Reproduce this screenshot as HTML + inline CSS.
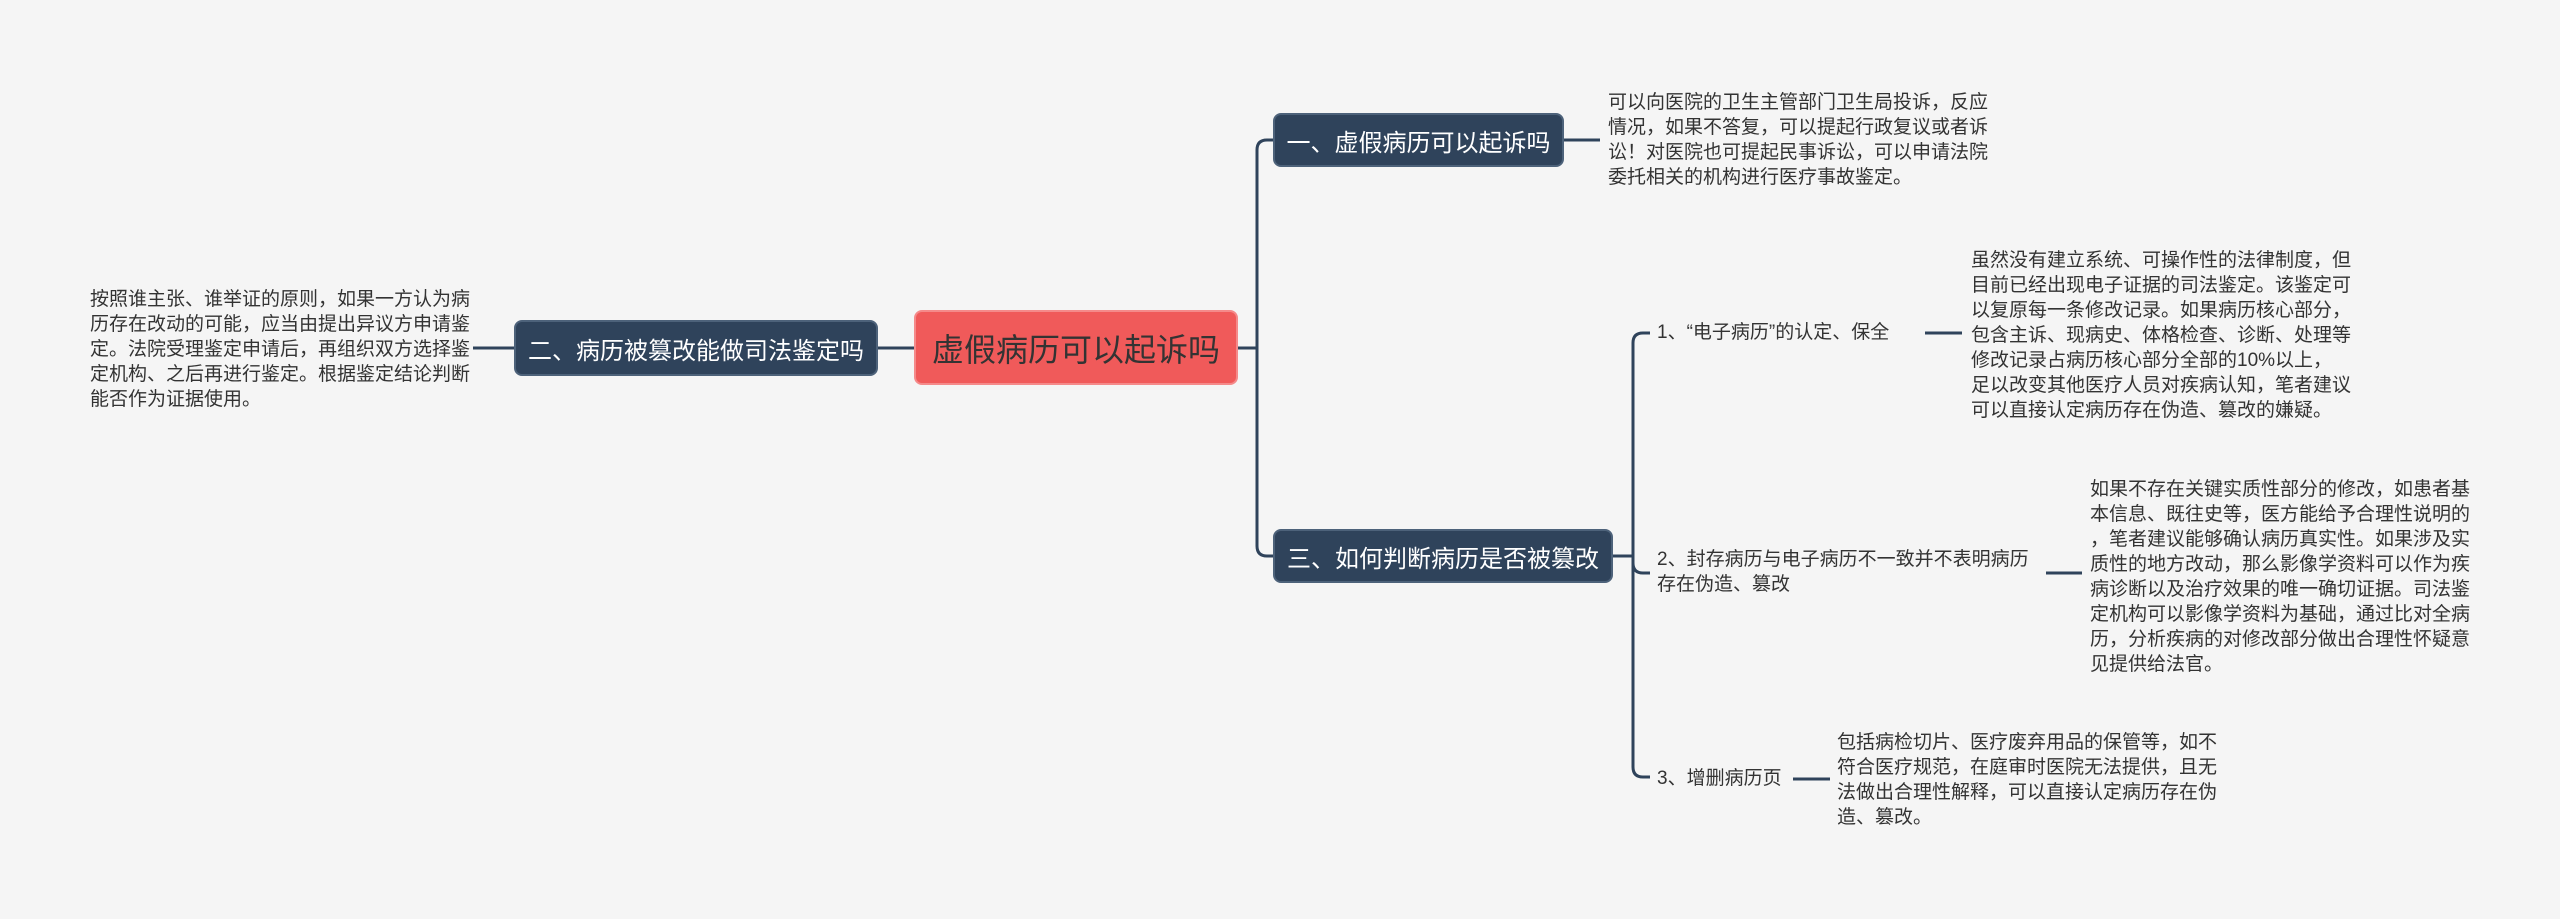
<!DOCTYPE html>
<html><head><meta charset="utf-8"><style>
html,body{margin:0;padding:0;}
body{width:2560px;height:919px;background:#f5f5f5;position:relative;overflow:hidden;font-family:"Liberation Sans","Noto Sans CJK SC",sans-serif;}
.n{position:absolute;box-sizing:border-box;border-radius:8px;display:flex;align-items:center;justify-content:center;white-space:nowrap;}
.d{background:#2f435b;color:#fff;font-size:24px;border:2px solid #4d627a;}
.t{position:absolute;font-size:19px;line-height:25px;color:#333;white-space:nowrap;}
.l{position:absolute;font-size:19px;line-height:25px;color:#333;white-space:nowrap;}
</style></head><body>
<svg width="2560" height="919" style="position:absolute;left:0;top:0" fill="none" stroke="#2f435b" stroke-width="3">
<path d="M878 348 H914"/>
<path d="M473 348 H514"/>
<path d="M1238 348 H1257"/>
<path d="M1273 140 H1267 Q1257 140 1257 150 V546 Q1257 556 1267 556 H1273"/>
<path d="M1564 140 H1600"/>
<path d="M1613 556 H1633"/>
<path d="M1650 333 H1643 Q1633 333 1633 343 V767 Q1633 777 1643 777 H1650"/>
<path d="M1633 563 Q1633 573 1643 573 H1650"/>
<path d="M1925 333 H1962"/>
<path d="M2046 573 H2082"/>
<path d="M1793 779 H1830"/>
</svg>
<div class="n" style="left:914px;top:310px;width:324px;height:75px;background:#f05a5a;color:#333;font-size:32px;border:2px solid #f58a8a;">虚假病历可以起诉吗</div>
<div class="n d" style="left:514px;top:320px;width:364px;height:56px;">二、病历被篡改能做司法鉴定吗</div>
<div class="n d" style="left:1273px;top:113px;width:291px;height:54px;">一、虚假病历可以起诉吗</div>
<div class="n d" style="left:1273px;top:529px;width:340px;height:54px;">三、如何判断病历是否被篡改</div>
<div class="t" style="left:90px;top:287px;">按照谁主张、谁举证的原则，如果一方认为病<br>历存在改动的可能，应当由提出异议方申请鉴<br>定。法院受理鉴定申请后，再组织双方选择鉴<br>定机构、之后再进行鉴定。根据鉴定结论判断<br>能否作为证据使用。</div>
<div class="t" style="left:1608px;top:90px;">可以向医院的卫生主管部门卫生局投诉，反应<br>情况，如果不答复，可以提起行政复议或者诉<br>讼！对医院也可提起民事诉讼，可以申请法院<br>委托相关的机构进行医疗事故鉴定。</div>
<div class="l" style="left:1657px;top:320px;">1、“电子病历”的认定、保全</div>
<div class="t" style="left:1971px;top:248px;">虽然没有建立系统、可操作性的法律制度，但<br>目前已经出现电子证据的司法鉴定。该鉴定可<br>以复原每一条修改记录。如果病历核心部分，<br>包含主诉、现病史、体格检查、诊断、处理等<br>修改记录占病历核心部分全部的10%以上，<br>足以改变其他医疗人员对疾病认知，笔者建议<br>可以直接认定病历存在伪造、篡改的嫌疑。</div>
<div class="l" style="left:1657px;top:547px;">2、封存病历与电子病历不一致并不表明病历<br>存在伪造、篡改</div>
<div class="t" style="left:2090px;top:477px;">如果不存在关键实质性部分的修改，如患者基<br>本信息、既往史等，医方能给予合理性说明的<br>，笔者建议能够确认病历真实性。如果涉及实<br>质性的地方改动，那么影像学资料可以作为疾<br>病诊断以及治疗效果的唯一确切证据。司法鉴<br>定机构可以影像学资料为基础，通过比对全病<br>历，分析疾病的对修改部分做出合理性怀疑意<br>见提供给法官。</div>
<div class="l" style="left:1657px;top:766px;">3、增删病历页</div>
<div class="t" style="left:1837px;top:730px;">包括病检切片、医疗废弃用品的保管等，如不<br>符合医疗规范，在庭审时医院无法提供，且无<br>法做出合理性解释，可以直接认定病历存在伪<br>造、篡改。</div>
</body></html>
